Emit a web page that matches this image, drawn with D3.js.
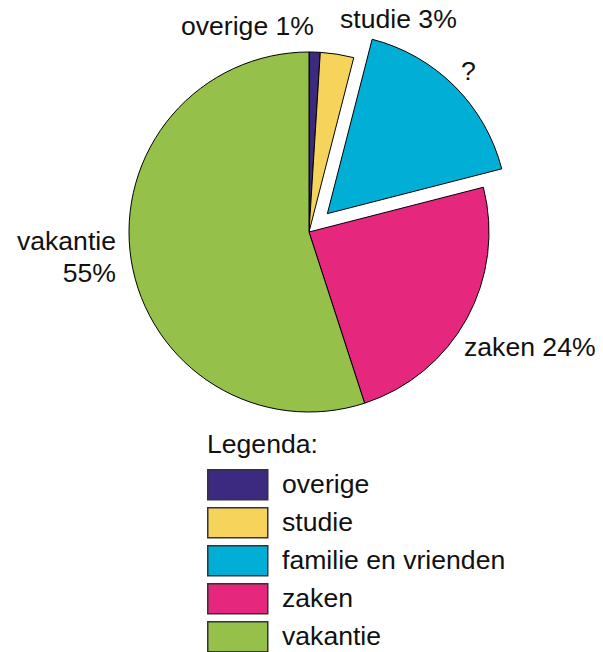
<!DOCTYPE html>
<html>
<head>
<meta charset="utf-8">
<script src="https://cdn.jsdelivr.net/npm/d3@7"></script>
<style>
  html, body { margin: 0; padding: 0; background: #fff; }
  svg { display: block; font-family: "Liberation Sans", Arial, Helvetica, sans-serif; }
</style>
</head>
<body>
<svg id="chart" width="603" height="652"></svg>
<script>
// Reisdoelen (procent), met de klok mee vanaf boven
const categories = ["overige", "studie", "familie en vrienden", "zaken", "vakantie"];
const values = [1, 3, 17, 24, 55];
const colors = ["#3c2a80", "#f6d35b", "#00aed6", "#e5277d", "#95c14b"];
const sliceLabels = [["overige 1%"], ["studie 3%"], ["?"], ["zaken 24%"], ["vakantie", "55%"]];
const legendTitle = "Legenda:";
const explodedIndex = 2;

const svg = d3.select("#chart");
const cx = 309, cy = 232, radius = 180, explode = 26;

const pie = d3.pie().sort(null).value(d => d.value).startAngle(0).endAngle(2 * Math.PI);
const arcs = pie(categories.map((c, i) => ({ cat: c, value: values[i], i })));
const arc = d3.arc().innerRadius(0).outerRadius(radius);

const g = svg.append("g").attr("transform", `translate(${cx},${cy})`);

g.selectAll("path.slice")
  .data(arcs)
  .join("path")
  .attr("class", "slice")
  .attr("d", arc)
  .attr("fill", d => colors[d.data.i])
  .attr("stroke", "#000")
  .attr("stroke-width", 1)
  .attr("stroke-linejoin", "miter")
  .attr("transform", d => {
    if (d.data.i !== explodedIndex) return null;
    const a = (d.startAngle + d.endAngle) / 2;
    return `translate(${explode * Math.sin(a)},${-explode * Math.cos(a)})`;
  });

// Slice labels (absolute page positions)
const labelPlacement = [
  { x: 314, y: 35, anchor: "end" },
  { x: 340, y: 28, anchor: "start" },
  { x: 461, y: 80, anchor: "start" },
  { x: 464, y: 356, anchor: "start" },
  { x: 116, y: 250, anchor: "end" }
];
const fontSize = 26.6;

labelPlacement.forEach((p, i) => {
  const t = svg.append("text")
    .attr("x", p.x)
    .attr("y", p.y)
    .attr("text-anchor", p.anchor)
    .attr("font-size", fontSize)
    .attr("fill", "#111");
  sliceLabels[i].forEach((line, k) => {
    t.append("tspan")
      .attr("x", p.x)
      .attr("dy", k === 0 ? 0 : 32)
      .text(line);
  });
});

// Legend
const legend = svg.append("g").attr("transform", "translate(207,0)");
legend.append("text")
  .attr("x", 0)
  .attr("y", 453)
  .attr("font-size", fontSize)
  .attr("fill", "#111")
  .text(legendTitle);

const rowY = d3.scaleBand().domain(categories).range([469, 469 + 38 * categories.length]).paddingInner(0);

const rows = legend.selectAll("g.row")
  .data(categories)
  .join("g")
  .attr("class", "row")
  .attr("transform", d => `translate(0,${rowY(d)})`);

rows.append("rect")
  .attr("x", 0.75)
  .attr("y", 0.75)
  .attr("width", 60)
  .attr("height", 30)
  .attr("fill", (d, i) => colors[i])
  .attr("stroke", "#333")
  .attr("stroke-width", 1.5);

rows.append("text")
  .attr("x", 75)
  .attr("y", 24)
  .attr("font-size", fontSize)
  .attr("fill", "#111")
  .text(d => d);
</script>
</body>
</html>
